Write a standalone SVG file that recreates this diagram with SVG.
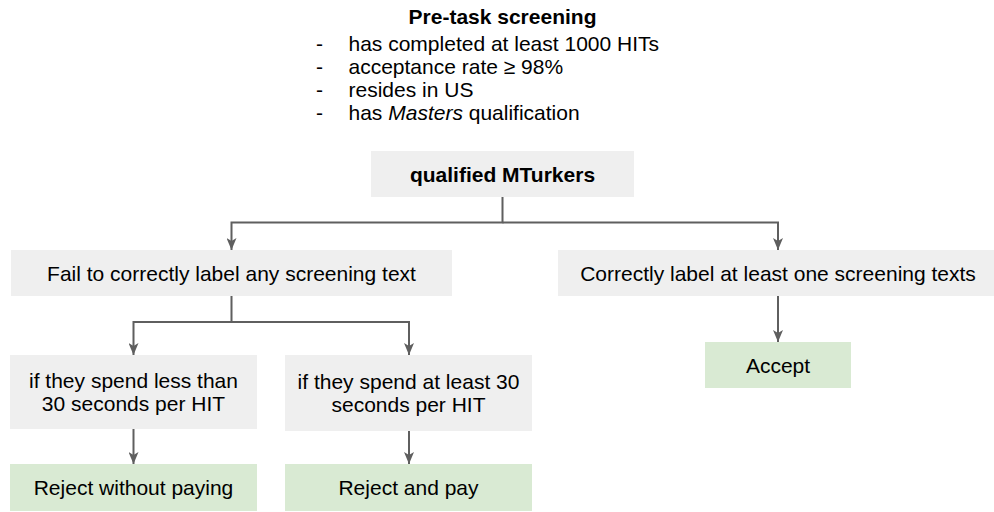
<svg xmlns="http://www.w3.org/2000/svg" width="994" height="512" viewBox="0 0 994 512">
<style>
  text { font-family: "Liberation Sans", Arial, sans-serif; font-size: 21px; fill: #000; }
  .b { font-weight: bold; }
  .c { text-anchor: middle; }
  .gray { fill: #efefef; }
  .green { fill: #d9ead3; }
  .conn { fill: none; stroke: #5f5f5f; stroke-width: 2; }
</style>
<defs>
  <marker id="arr" markerUnits="userSpaceOnUse" markerWidth="12" markerHeight="10" viewBox="0 0 12 10" refX="12" refY="5" orient="auto">
    <path d="M0,0 L12,5 L0,10 L3,5 Z" fill="#5f5f5f"/>
  </marker>
</defs>
<rect width="994" height="512" fill="#ffffff"/>

<g id="header">
  <text class="b c" x="502.5" y="24">Pre-task screening</text>
  <text x="316" y="50.5">-</text>
  <text x="348.5" y="50.5">has completed at least 1000 HITs</text>
  <text x="316" y="73.5">-</text>
  <text x="348.5" y="73.5">acceptance rate ≥ 98%</text>
  <text x="316" y="96.5">-</text>
  <text x="348.5" y="96.5">resides in US</text>
  <text x="316" y="119.5">-</text>
  <text x="348.5" y="119.5">has <tspan font-style="italic">Masters</tspan> qualification</text>
</g>

<g id="connectors">
  <path class="conn" d="M502.5,197 V222.5 H231.5 V250" marker-end="url(#arr)"/>
  <path class="conn" d="M502.5,222.5 H778 V250" marker-end="url(#arr)"/>
  <path class="conn" d="M778,296 V342" marker-end="url(#arr)"/>
  <path class="conn" d="M231.5,296 V322 H133.5 V355" marker-end="url(#arr)"/>
  <path class="conn" d="M231.5,322 H409 V355" marker-end="url(#arr)"/>
  <path class="conn" d="M133.5,429 V464" marker-end="url(#arr)"/>
  <path class="conn" d="M409,431 V464" marker-end="url(#arr)"/>
</g>

<g id="qualified">
  <rect class="gray" x="371" y="151" width="263" height="46"/>
  <text class="b c" x="502.5" y="181.5">qualified MTurkers</text>
</g>

<g id="fail">
  <rect class="gray" x="11" y="250" width="441" height="46"/>
  <text class="c" x="231.5" y="280.5">Fail to correctly label any screening text</text>
</g>

<g id="correct">
  <rect class="gray" x="558" y="250" width="440" height="46"/>
  <text class="c" x="778" y="280.5">Correctly label at least one screening texts</text>
</g>

<g id="accept">
  <rect class="green" x="705" y="342" width="146" height="46"/>
  <text class="c" x="778" y="372.5">Accept</text>
</g>

<g id="less30">
  <rect class="gray" x="10" y="355" width="247" height="74"/>
  <text class="c" x="133.5" y="387.5">if they spend less than</text>
  <text class="c" x="133.5" y="410.5">30 seconds per HIT</text>
</g>

<g id="atleast30">
  <rect class="gray" x="285" y="355" width="247" height="76"/>
  <text class="c" x="408.5" y="388.5">if they spend at least 30</text>
  <text class="c" x="408.5" y="411.5">seconds per HIT</text>
</g>

<g id="rejectnopay">
  <rect class="green" x="10" y="464" width="247" height="47"/>
  <text class="c" x="133.5" y="495">Reject without paying</text>
</g>

<g id="rejectpay">
  <rect class="green" x="285" y="464" width="247" height="47"/>
  <text class="c" x="408.5" y="495">Reject and pay</text>
</g>
</svg>
